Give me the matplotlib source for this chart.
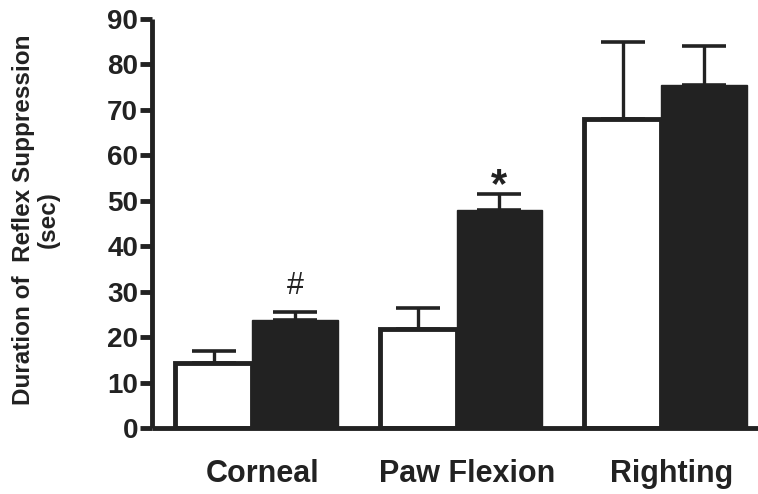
import numpy as np
import matplotlib.pyplot as plt

# reflex suppression durations (sec)
reflexes = ['Corneal', 'Paw Flexion', 'Righting']
control_mean = [14.4, 21.8, 67.9]
control_err = [2.5, 4.5, 17.1]
treated_mean = [23.8, 48.0, 75.5]
treated_err = [1.8, 3.6, 8.6]
marks = ['#', '*', '']

dark = '#222222'
plt.rcParams['font.family'] = ['Liberation Sans', 'DejaVu Sans']
plt.rcParams['font.weight'] = 'bold'

fig = plt.figure(figsize=(7.58, 4.94), dpi=100)
ax = fig.add_axes([0.2005, 0.1336, 0.7995, 0.8279])

x = np.arange(len(reflexes))
w_ctl = 0.375
w_trt = 0.42

ax.bar(x - w_ctl / 2, control_mean, w_ctl, color='white', edgecolor=dark,
       linewidth=3.5, zorder=2)
ax.bar(x + w_trt / 2, treated_mean, w_trt, color=dark, edgecolor=dark,
       linewidth=1, zorder=3)

# upper-only error bars
ax.errorbar(x - w_ctl / 2, control_mean, yerr=[np.zeros(3), control_err],
            fmt='none', ecolor=dark, elinewidth=2.4, capsize=16, capthick=2.6,
            zorder=1)
ax.errorbar(x + w_trt / 2, treated_mean, yerr=[np.zeros(3), treated_err],
            fmt='none', ecolor=dark, elinewidth=2.4, capsize=16, capthick=2.6,
            zorder=1)

# significance marks above the treated bars
mark_style = {'#': dict(fontsize=22, fontweight='normal', dy=3.9),
              '*': dict(fontsize=30, fontweight='bold', dy=-0.8)}
for xi, m, e, s in zip(x, treated_mean, treated_err, marks):
    if s:
        st = mark_style[s]
        ax.text(xi + w_trt / 2, m + e + st['dy'], s, ha='center',
                va='baseline', fontsize=st['fontsize'],
                fontweight=st['fontweight'], color=dark)

ax.set_xlim(-0.49, 2.475)
ax.set_ylim(0, 90)
ax.set_yticks(np.arange(0, 91, 10))
ax.set_xticks(x + 0.05)
ax.set_xticklabels(reflexes, fontsize=22, fontweight='bold', color=dark)
ax.tick_params(axis='x', length=0, pad=22)
ax.tick_params(axis='y', length=9, width=3.5, color=dark, pad=1,
               labelsize=20, labelcolor=dark)
for lab in ax.get_yticklabels():
    lab.set_fontweight('bold')

for side in ['top', 'right']:
    ax.spines[side].set_visible(False)
for side in ['left', 'bottom']:
    ax.spines[side].set_linewidth(3.5)
    ax.spines[side].set_color(dark)
    ax.spines[side].set_capstyle('butt')

ax.set_ylabel('Duration of  Reflex Suppression\n(sec)', fontsize=17.5,
              fontweight='bold', color=dark, linespacing=1.1)
ax.yaxis.set_label_coords(-0.152, 0.51)

fig.savefig('out.png', dpi=100)
